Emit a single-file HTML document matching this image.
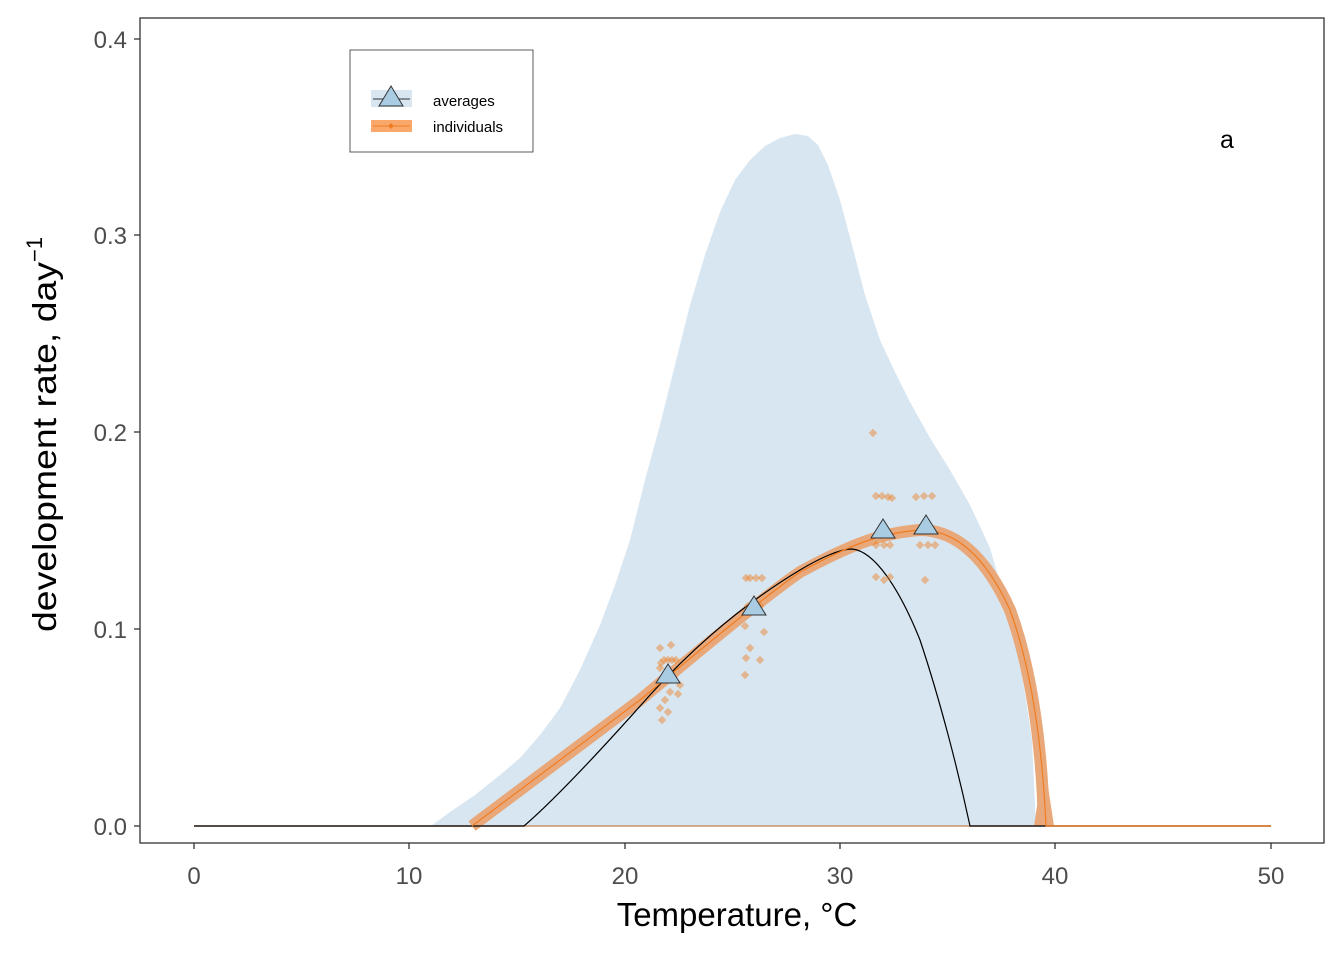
<!DOCTYPE html>
<html><head><style>body{margin:0;background:#fff}svg{display:block}</style></head><body>
<svg width="1344" height="960" xmlns="http://www.w3.org/2000/svg" font-family="Liberation Sans, sans-serif">
<rect width="1344" height="960" fill="#fff"/>
<path d="M431,826 L450,812 L475,795 L500,775 L520,758 L540,735 L560,708 L580,670 L600,625 L615,585 L630,540 L645,480 L660,425 L675,365 L690,305 L705,255 L720,212 L735,180 L750,160 L765,146 L780,138 L795,134 L808,136 L818,145 L828,165 L840,200 L852,245 L865,295 L880,340 L895,372 L910,402 L930,438 L950,470 L970,505 L990,548 L1005,600 L1020,660 L1032,740 L1036,826 Z" fill="#d8e6f1"/>
<line x1="194" y1="826" x2="1271" y2="826" stroke="#c8946a" stroke-width="1.5"/>
<path d="M472,826 C520,790 580,745 640,700 C700,650 760,600 800,572 C850,545 880,533 920,530 C955,530 985,555 1010,610 C1030,665 1042,740 1044,826" fill="none" stroke="#e8a87a" stroke-width="12"/>
<path d="M1034,826 L1044,760 L1054,826 Z" fill="#e8a87a"/>
<path d="M194,826 L524,826 C560,795 610,740 650,695 C700,640 750,600 800,570 C820,558 840,549 852,549 C875,551 900,590 920,640 C940,700 958,770 970,826 L1271,826" fill="none" stroke="#000" stroke-width="1.2"/>
<path d="M472,826 C520,790 580,745 640,700 C700,650 760,600 800,572 C850,545 880,533 920,530 C955,530 985,555 1010,610 C1030,665 1042,740 1046,826 L1271,826" fill="none" stroke="#f07c20" stroke-width="1.2"/>
<g fill="#f07c20" fill-opacity="0.45">
<rect x="-3" y="-3" width="6" height="6" transform="translate(661,663) rotate(45)"/>
<rect x="-3" y="-3" width="6" height="6" transform="translate(671,645) rotate(45)"/>
<rect x="-3" y="-3" width="6" height="6" transform="translate(660,648) rotate(45)"/>
<rect x="-3" y="-3" width="6" height="6" transform="translate(664,660) rotate(45)"/>
<rect x="-3" y="-3" width="6" height="6" transform="translate(668,660) rotate(45)"/>
<rect x="-3" y="-3" width="6" height="6" transform="translate(672,660) rotate(45)"/>
<rect x="-3" y="-3" width="6" height="6" transform="translate(676,660) rotate(45)"/>
<rect x="-3" y="-3" width="6" height="6" transform="translate(660,668) rotate(45)"/>
<rect x="-3" y="-3" width="6" height="6" transform="translate(680,685) rotate(45)"/>
<rect x="-3" y="-3" width="6" height="6" transform="translate(670,692) rotate(45)"/>
<rect x="-3" y="-3" width="6" height="6" transform="translate(678,694) rotate(45)"/>
<rect x="-3" y="-3" width="6" height="6" transform="translate(660,708) rotate(45)"/>
<rect x="-3" y="-3" width="6" height="6" transform="translate(668,712) rotate(45)"/>
<rect x="-3" y="-3" width="6" height="6" transform="translate(662,720) rotate(45)"/>
<rect x="-3" y="-3" width="6" height="6" transform="translate(665,700) rotate(45)"/>
<rect x="-3" y="-3" width="6" height="6" transform="translate(750,578) rotate(45)"/>
<rect x="-3" y="-3" width="6" height="6" transform="translate(756,578) rotate(45)"/>
<rect x="-3" y="-3" width="6" height="6" transform="translate(762,578) rotate(45)"/>
<rect x="-3" y="-3" width="6" height="6" transform="translate(746,578) rotate(45)"/>
<rect x="-3" y="-3" width="6" height="6" transform="translate(748,606) rotate(45)"/>
<rect x="-3" y="-3" width="6" height="6" transform="translate(760,606) rotate(45)"/>
<rect x="-3" y="-3" width="6" height="6" transform="translate(745,626) rotate(45)"/>
<rect x="-3" y="-3" width="6" height="6" transform="translate(764,632) rotate(45)"/>
<rect x="-3" y="-3" width="6" height="6" transform="translate(750,648) rotate(45)"/>
<rect x="-3" y="-3" width="6" height="6" transform="translate(746,658) rotate(45)"/>
<rect x="-3" y="-3" width="6" height="6" transform="translate(760,660) rotate(45)"/>
<rect x="-3" y="-3" width="6" height="6" transform="translate(745,675) rotate(45)"/>
<rect x="-3" y="-3" width="6" height="6" transform="translate(873,433) rotate(45)"/>
<rect x="-3" y="-3" width="6" height="6" transform="translate(876,496) rotate(45)"/>
<rect x="-3" y="-3" width="6" height="6" transform="translate(882,496) rotate(45)"/>
<rect x="-3" y="-3" width="6" height="6" transform="translate(888,497) rotate(45)"/>
<rect x="-3" y="-3" width="6" height="6" transform="translate(892,498) rotate(45)"/>
<rect x="-3" y="-3" width="6" height="6" transform="translate(876,545) rotate(45)"/>
<rect x="-3" y="-3" width="6" height="6" transform="translate(884,545) rotate(45)"/>
<rect x="-3" y="-3" width="6" height="6" transform="translate(890,545) rotate(45)"/>
<rect x="-3" y="-3" width="6" height="6" transform="translate(876,577) rotate(45)"/>
<rect x="-3" y="-3" width="6" height="6" transform="translate(884,580) rotate(45)"/>
<rect x="-3" y="-3" width="6" height="6" transform="translate(890,577) rotate(45)"/>
<rect x="-3" y="-3" width="6" height="6" transform="translate(916,497) rotate(45)"/>
<rect x="-3" y="-3" width="6" height="6" transform="translate(924,496) rotate(45)"/>
<rect x="-3" y="-3" width="6" height="6" transform="translate(932,496) rotate(45)"/>
<rect x="-3" y="-3" width="6" height="6" transform="translate(920,545) rotate(45)"/>
<rect x="-3" y="-3" width="6" height="6" transform="translate(928,545) rotate(45)"/>
<rect x="-3" y="-3" width="6" height="6" transform="translate(935,545) rotate(45)"/>
<rect x="-3" y="-3" width="6" height="6" transform="translate(925,580) rotate(45)"/>
</g>
<g fill="#a9cce3" stroke="#333" stroke-width="1">
<path d="M668,664 L680,683 L656,683 Z"/>
<path d="M754,596 L766,615 L742,615 Z"/>
<path d="M883,519 L895,538 L871,538 Z"/>
<path d="M926,515 L938,534 L914,534 Z"/>
</g>
<rect x="140" y="18" width="1184" height="825" fill="none" stroke="#333" stroke-width="1.3"/>
<g stroke="#333" stroke-width="1.3">
<line x1="134" y1="826" x2="140" y2="826"/><line x1="134" y1="629" x2="140" y2="629"/><line x1="134" y1="432" x2="140" y2="432"/><line x1="134" y1="235" x2="140" y2="235"/><line x1="134" y1="39" x2="140" y2="39"/>
<line x1="194" y1="843" x2="194" y2="849"/><line x1="409" y1="843" x2="409" y2="849"/><line x1="625" y1="843" x2="625" y2="849"/><line x1="840" y1="843" x2="840" y2="849"/><line x1="1055" y1="843" x2="1055" y2="849"/><line x1="1271" y1="843" x2="1271" y2="849"/>
</g>
<g fill="#4d4d4d" font-size="24" text-anchor="end">
<text x="127" y="835">0.0</text><text x="127" y="638">0.1</text><text x="127" y="441">0.2</text><text x="127" y="244">0.3</text><text x="127" y="48">0.4</text>
</g>
<g fill="#4d4d4d" font-size="24" text-anchor="middle">
<text x="194" y="884">0</text><text x="409" y="884">10</text><text x="625" y="884">20</text><text x="840" y="884">30</text><text x="1055" y="884">40</text><text x="1271" y="884">50</text>
</g>
<text x="737" y="926" font-size="33" text-anchor="middle">Temperature, °C</text>
<text transform="translate(56,632) rotate(-90)" font-size="33"><tspan textLength="370" lengthAdjust="spacingAndGlyphs">development rate, day</tspan><tspan font-size="22" dy="-14">−1</tspan></text>
<text x="1227" y="148" font-size="25" text-anchor="middle">a</text>
<rect x="350" y="50" width="183" height="102" fill="#fff" stroke="#333" stroke-width="0.8"/>
<rect x="371" y="90" width="41" height="17" fill="#d8e6f1"/>
<line x1="373" y1="99" x2="410" y2="99" stroke="#333" stroke-width="1"/>
<path d="M391,86 L403,106 L379,106 Z" fill="#a9cce3" stroke="#333" stroke-width="1"/>
<rect x="371" y="120" width="41" height="12" fill="#f9a76a"/>
<line x1="373" y1="126" x2="410" y2="126" stroke="#f07c20" stroke-width="1"/>
<rect x="-2" y="-2" width="4" height="4" transform="translate(391,126) rotate(45)" fill="#f07c20"/>
<text x="433" y="106" font-size="15">averages</text>
<text x="433" y="132" font-size="15">individuals</text>
</svg>
</body></html>
